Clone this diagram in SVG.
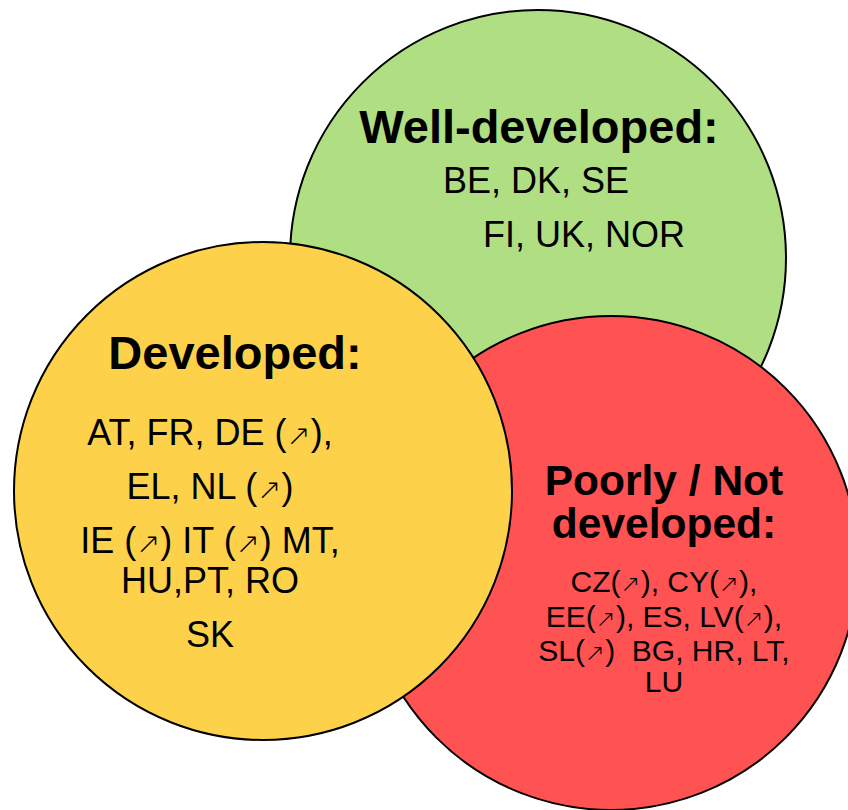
<svg xmlns="http://www.w3.org/2000/svg" width="848" height="810" viewBox="0 0 848 810">
<style>
.c{stroke:#000;stroke-width:2}
.t{font-family:"Liberation Sans",Arial,"DejaVu Sans",sans-serif;fill:#000}
.h{font-weight:bold}
.ar{font-family:"DejaVu Sans",sans-serif;font-size:0.8em;font-weight:200}
</style>
<rect width="848" height="810" fill="#fff"/>
<g id="well-developed">
<circle class="c" cx="538" cy="258" r="248" fill="#B0DE82"/>
<text class="t h" x="539" y="143" font-size="47" text-anchor="middle">Well-developed:</text>
<text class="t" x="443" y="193" font-size="36">BE, DK, SE</text>
<text class="t" x="483" y="247" font-size="36">FI, UK, NOR</text>
</g>
<g id="poorly-developed">
<circle class="c" cx="611" cy="563" r="247" fill="#FF5252"/>
<text class="t h" x="664" y="495" font-size="42.5" text-anchor="middle">Poorly / Not</text>
<text class="t h" x="664" y="538" font-size="42.5" text-anchor="middle">developed:</text>
<text class="t" x="664" y="592" font-size="30" text-anchor="middle">CZ(<tspan class="ar">↗</tspan>), CY(<tspan class="ar">↗</tspan>),</text>
<text class="t" x="664" y="627" font-size="30" text-anchor="middle">EE(<tspan class="ar">↗</tspan>), ES, LV(<tspan class="ar">↗</tspan>),</text>
<text class="t" x="664" y="661" font-size="30" text-anchor="middle" xml:space="preserve">SL(<tspan class="ar">↗</tspan>)  BG, HR, LT,</text>
<text class="t" x="664" y="692" font-size="30" text-anchor="middle">LU</text>
</g>
<g id="developed">
<circle class="c" cx="263" cy="491" r="249" fill="#FDD24A"/>
<text class="t h" x="235" y="369" font-size="47" text-anchor="middle">Developed:</text>
<text class="t" x="210" y="445" font-size="36" text-anchor="middle">AT, FR, DE (<tspan class="ar">↗</tspan>),</text>
<text class="t" x="210" y="499" font-size="36" text-anchor="middle">EL, NL (<tspan class="ar">↗</tspan>)</text>
<text class="t" x="210" y="553" font-size="36" text-anchor="middle">IE (<tspan class="ar">↗</tspan>) IT (<tspan class="ar">↗</tspan>) MT,</text>
<text class="t" x="210" y="593" font-size="36" text-anchor="middle">HU,PT, RO</text>
<text class="t" x="210" y="647" font-size="36" text-anchor="middle">SK</text>
</g>
<g id="connectors"></g>
</svg>
